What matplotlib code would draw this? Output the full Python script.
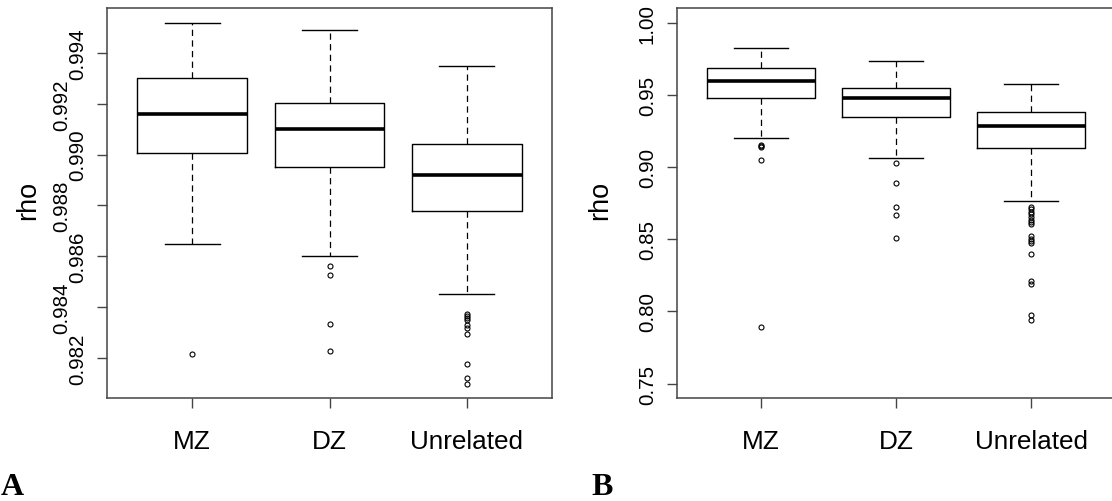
"""
Boxplots of rho for MZ, DZ and unrelated pairs (panels A and B).
"""

import matplotlib
matplotlib.use("Agg")
import matplotlib.pyplot as plt
import matplotlib.transforms as mtransforms

plt.rcParams['font.family'] = ['Liberation Sans', 'DejaVu Sans']

groups = ['MZ', 'DZ', 'Unrelated']

# Panel A: five-number summaries
a_whislo = [0.98650, 0.98600, 0.98451]
a_q1 = [0.99007, 0.98951, 0.98778]
a_med = [0.99160, 0.99102, 0.98920]
a_q3 = [0.99303, 0.99205, 0.99043]
a_whishi = [0.99519, 0.99489, 0.99348]
a_fliers = [
    [0.98217],
    [0.98562, 0.98527, 0.98332, 0.98226],
    [0.98371, 0.98363, 0.98357, 0.98348, 0.98331, 0.98319, 0.98293,
     0.98176, 0.98121, 0.98099],
]
a_yticks = [0.982, 0.984, 0.986, 0.988, 0.990, 0.992, 0.994]

# Panel B
b_whislo = [0.92019, 0.90616, 0.87672]
b_q1 = [0.94802, 0.93491, 0.91329]
b_med = [0.95975, 0.94802, 0.92870]
b_q3 = [0.96895, 0.95492, 0.93790]
b_whishi = [0.98229, 0.97355, 0.95745]
b_fliers = [
    [0.91559, 0.91444, 0.91380, 0.90524, 0.78930],
    [0.90294, 0.88910, 0.87220, 0.86690, 0.85120],
    [0.87260, 0.87080, 0.86910, 0.86760, 0.86570, 0.86340, 0.86160,
     0.86050, 0.85190, 0.85030, 0.84880, 0.84740, 0.83950, 0.82090,
     0.81930, 0.79730, 0.79390],
]
b_yticks = [0.75, 0.80, 0.85, 0.90, 0.95, 1.00]
b_ylim = (0.75, 1.00)


def make_stats(whislo, q1, med, q3, whishi, fliers):
    stats = []
    for i, g in enumerate(groups):
        stats.append(dict(label=g, whislo=whislo[i], q1=q1[i], med=med[i],
                          q3=q3[i], whishi=whishi[i], fliers=fliers[i]))
    return stats


def r_range(lo, hi):
    # R style 4% extension of the axis range
    d = (hi - lo) * 0.04
    return lo - d, hi + d


def draw_box(ax, stats):
    ax.bxp(stats, positions=[1, 2, 3], widths=0.8, capwidths=0.4,
           boxprops=dict(color='black', linewidth=1.0),
           medianprops=dict(color='black', linewidth=2.6, solid_capstyle='butt'),
           whiskerprops=dict(color='black', linewidth=0.9, linestyle=(0, (5, 3.5))),
           capprops=dict(color='black', linewidth=1.0),
           flierprops=dict(marker='o', markersize=3.6, markerfacecolor='none',
                           markeredgecolor='black', markeredgewidth=0.8))
    ax.set_xlim(0.38, 3.62)
    ax.set_xticks([1, 2, 3])
    ax.set_xticklabels(groups)
    for s in ax.spines.values():
        s.set_color('#444444')
        s.set_linewidth(1.1)
    ax.tick_params(axis='x', direction='out', length=7, width=1.0,
                   color='#444444', labelsize=18.8, pad=15.5)
    ax.tick_params(axis='y', direction='out', length=7, width=1.0,
                   color='#444444', labelsize=14.8, labelrotation=90)


fig = plt.figure(figsize=(11.12, 5.02), dpi=100)

# Panel A
ax1 = fig.add_axes([107 / 1112, 103 / 502, 445 / 1112, 389.7 / 502])
stats_a = make_stats(a_whislo, a_q1, a_med, a_q3, a_whishi, a_fliers)
draw_box(ax1, stats_a)
all_a = a_whislo + a_whishi + sum(a_fliers, [])
ax1.set_ylim(*r_range(min(all_a), max(all_a)))
ax1.set_yticks(a_yticks)
ax1.set_yticklabels([])
# labels alternate between two columns, as in the original
trans = mtransforms.blended_transform_factory(ax1.transAxes, ax1.transData)
for i, v in enumerate(a_yticks):
    xr = (87 - 107) / 445 if i % 2 == 0 else (71 - 107) / 445
    ax1.text(xr, v, f"{v:.3f}", transform=trans, rotation=90, fontsize=14.8,
             ha='right', va='center', clip_on=False)

# Panel B
ax2 = fig.add_axes([676.9 / 1112, 103 / 502, 438.1 / 1112, 389.7 / 502])
stats_b = make_stats(b_whislo, b_q1, b_med, b_q3, b_whishi, b_fliers)
draw_box(ax2, stats_b)
ax2.set_ylim(*r_range(*b_ylim))
ax2.set_yticks(b_yticks)
ax2.set_yticklabels([f"{v:.2f}" for v in b_yticks])
for lab in ax2.get_yticklabels():
    lab.set_verticalalignment('center')
ax2.tick_params(axis='y', pad=7.5)

# axis titles
fig.text(28 / 1112, 1 - 200 / 502, 'rho', rotation=90, fontsize=19.5,
         ha='center', va='center')
fig.text(600 / 1112, 1 - 200 / 502, 'rho', rotation=90, fontsize=19.5,
         ha='center', va='center')

# panel letters
fig.text(1 / 1112, 7 / 502, 'A', fontsize=23, fontweight='bold',
         family=['Liberation Serif', 'DejaVu Serif'], va='baseline')
fig.text(591 / 1112, 7 / 502, 'B', fontsize=23, fontweight='bold',
         family=['Liberation Serif', 'DejaVu Serif'], va='baseline')

fig.savefig('out.png', dpi=100)
